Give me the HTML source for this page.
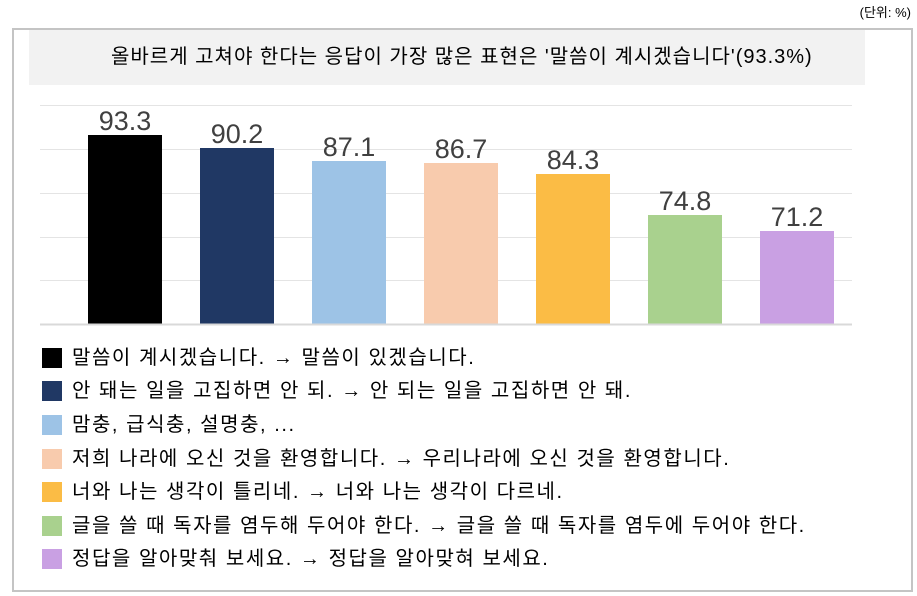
<!DOCTYPE html>
<html><head><meta charset="utf-8"><style>
body{margin:0;width:917px;height:596px;background:#fff;font-family:"Liberation Sans","Noto Sans CJK KR",sans-serif;position:relative;overflow:hidden}
.a{position:absolute}
.lg{position:absolute;left:42px;width:20px;height:20px}
.lt{position:absolute;left:72px;font-size:20px;color:#000;white-space:nowrap;line-height:20px;letter-spacing:1.55px}
.v{position:absolute;width:112px;text-align:center;font-size:27px;color:#404040;line-height:26px}
</style></head><body>
<div class="a" style="right:6px;top:2px;font-size:13px;color:#000">(단위: %)</div>
<div class="a" style="left:12px;top:28px;width:897px;height:560px;border:2px solid #c4c4c4"></div>
<div class="a" style="left:29px;top:30px;width:836px;height:55px;background:#f2f2f2"></div>
<div class="a" style="left:111px;top:30px;font-size:20px;line-height:55px;white-space:nowrap;color:#000;letter-spacing:1px">올바르게 고쳐야 한다는 응답이 가장 많은 표현은 '말씀이 계시겠습니다'(93.3%)</div>
<svg class="a" style="left:0;top:0" width="917" height="596">
<g stroke="#e4e4e4" stroke-width="1">
<line x1="40" x2="852" y1="105.5" y2="105.5"/><line x1="40" x2="852" y1="149.5" y2="149.5"/><line x1="40" x2="852" y1="193.5" y2="193.5"/><line x1="40" x2="852" y1="237.5" y2="237.5"/><line x1="40" x2="852" y1="280.5" y2="280.5"/>
</g>
<rect x="88" y="135" width="74" height="189" fill="#000"/>
<rect x="200" y="148" width="74" height="176" fill="#203864"/>
<rect x="312" y="161" width="74" height="163" fill="#9dc3e6"/>
<rect x="424" y="163" width="74" height="161" fill="#f8cbad"/>
<rect x="536" y="174" width="74" height="150" fill="#fbbc45"/>
<rect x="648" y="215" width="74" height="109" fill="#a9d18e"/>
<rect x="760" y="231" width="74" height="93" fill="#c9a0e3"/>
<line x1="40" x2="852" y1="324.5" y2="324.5" stroke="#d9d9d9" stroke-width="2"/>
</svg>
<div class="v" style="left:69px;top:108px">93.3</div>
<div class="v" style="left:181px;top:121px">90.2</div>
<div class="v" style="left:293px;top:134px">87.1</div>
<div class="v" style="left:405px;top:136px">86.7</div>
<div class="v" style="left:517px;top:147px">84.3</div>
<div class="v" style="left:629px;top:188px">74.8</div>
<div class="v" style="left:741px;top:204px">71.2</div>
<div class="lg" style="top:348px;background:#000"></div><div class="lt" style="top:348px">말씀이 계시겠습니다. → 말씀이 있겠습니다.</div>
<div class="lg" style="top:381px;background:#203864"></div><div class="lt" style="top:381px">안 돼는 일을 고집하면 안 되. → 안 되는 일을 고집하면 안 돼.</div>
<div class="lg" style="top:415px;background:#9dc3e6"></div><div class="lt" style="top:415px">맘충, 급식충, 설명충, ...</div>
<div class="lg" style="top:449px;background:#f8cbad"></div><div class="lt" style="top:449px">저희 나라에 오신 것을 환영합니다. → 우리나라에 오신 것을 환영합니다.</div>
<div class="lg" style="top:482px;background:#fbbc45"></div><div class="lt" style="top:482px">너와 나는 생각이 틀리네. → 너와 나는 생각이 다르네.</div>
<div class="lg" style="top:516px;background:#a9d18e"></div><div class="lt" style="top:516px">글을 쓸 때 독자를 염두해 두어야 한다. → 글을 쓸 때 독자를 염두에 두어야 한다.</div>
<div class="lg" style="top:549px;background:#c9a0e3"></div><div class="lt" style="top:549px">정답을 알아맞춰 보세요. → 정답을 알아맞혀 보세요.</div>
</body></html>
